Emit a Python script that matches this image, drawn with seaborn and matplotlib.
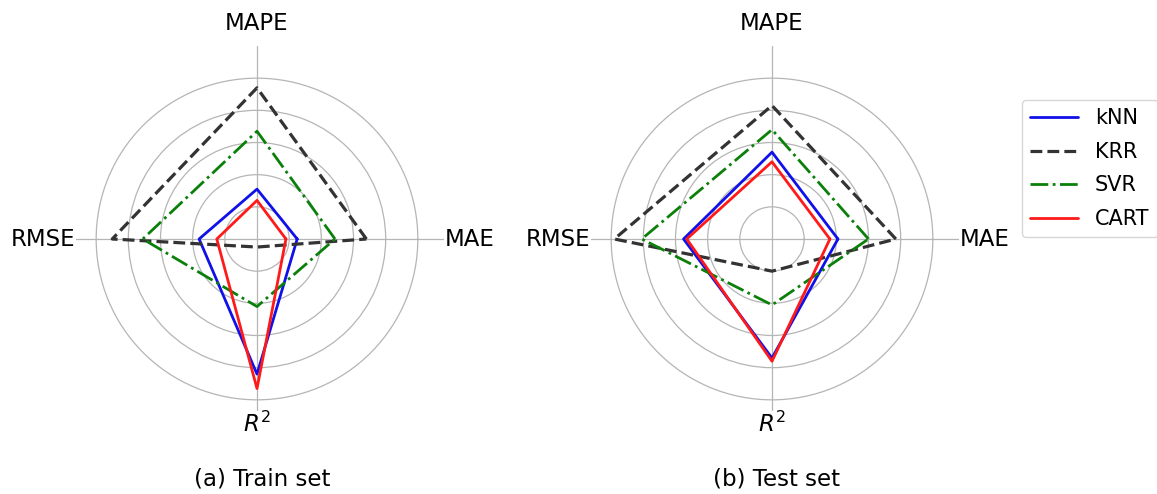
import numpy as np
import pandas as pd
import matplotlib
matplotlib.use("Agg")
import matplotlib.pyplot as plt
import seaborn as sns

# ---- data -------------------------------------------------------------
categories = ["MAE", "MAPE", "RMSE", "$R^2$"]
models = ["kNN", "KRR", "SVR", "CART"]

# normalised metric scores, ordered as in `categories`
knn_train = [0.25, 0.31, 0.36, 0.84]
krr_train = [0.68, 0.94, 0.90, 0.05]
svr_train = [0.485, 0.67, 0.71, 0.42]
cart_train = [0.18, 0.24, 0.25, 0.93]

knn_test = [0.41, 0.54, 0.55, 0.74]
krr_test = [0.77, 0.83, 0.98, 0.20]
svr_test = [0.60, 0.68, 0.81, 0.41]
cart_test = [0.36, 0.48, 0.53, 0.76]

panel_titles = ["(a) Train set", "(b) Test set"]

# ---- style ------------------------------------------------------------
sns.set_style("white")
plt.rcParams["font.family"] = ["DejaVu Sans"]
plt.rcParams["text.color"] = "black"

palette = {"kNN": "#1010e8", "KRR": "#333333", "SVR": "#0a800a", "CART": "#ff1a1a"}
dashes = {"kNN": "", "KRR": (3.7, 1.6), "SVR": (6.4, 1.6, 1.0, 1.6), "CART": ""}
widths = {"kNN": 2.0, "KRR": 2.3, "SVR": 2.0, "CART": 2.0}
label_radius = {"MAE": 1.325, "MAPE": 1.337, "RMSE": 1.33, "$R^2$": 1.15}
FS = 16.5

W, H = 1157, 494
fig = plt.figure(figsize=(W / 100, H / 100), dpi=100)


def radar(rect, series, title, title_x):
    ax = fig.add_axes(rect, projection="polar")
    theta = np.linspace(0, 2 * np.pi, len(categories), endpoint=False)
    rows = []
    for m, vals in zip(models, series):
        # close each polygon by returning to the first axis
        ts = list(theta) + [2 * np.pi]
        vs = list(vals) + [vals[0]]
        for t, v in zip(ts, vs):
            rows.append({"model": m, "theta": t, "r": v})
    df = pd.DataFrame(rows)
    sns.lineplot(data=df, x="theta", y="r", hue="model", style="model",
                 hue_order=models, style_order=models, palette=palette,
                 dashes=dashes, sort=False, estimator=None, linewidth=2.0,
                 ax=ax)
    # lines are drawn in model order; give KRR a slightly heavier stroke
    for line, m in zip(ax.get_lines(), models):
        line.set_linewidth(widths[m])
    ax.set_ylim(0, 1.2)
    ax.set_yticks([0.2, 0.4, 0.6, 0.8, 1.0])
    ax.set_yticklabels([])
    ax.set_xticks(theta)
    ax.set_xticklabels([])
    ax.tick_params(length=0)
    ax.spines["polar"].set_visible(False)
    ax.grid(True, color="#b5b5b5", linewidth=0.9)
    ax.set_xlabel("")
    ax.set_ylabel("")
    for t, lab in zip(theta, categories):
        ax.text(t, label_radius[lab], lab, ha="center", va="center",
                fontsize=FS, color="black", zorder=6, clip_on=False,
                bbox=dict(fc="white", ec="none", pad=0.5))
    fig.text(title_x / W, 1 - 479 / H, title, ha="center", va="center",
             fontsize=FS, color="black")
    return ax


R = 193
ax1 = radar([(257 - R) / W, (H - 239 - R) / H, 2 * R / W, 2 * R / H],
            [knn_train, krr_train, svr_train, cart_train], panel_titles[0], 262)
ax2 = radar([(772 - R) / W, (H - 239 - R) / H, 2 * R / W, 2 * R / H],
            [knn_test, krr_test, svr_test, cart_test], panel_titles[1], 776)

# one shared legend at the right edge of the figure
leg = ax2.get_legend()
handles = list(leg.legend_handles)
labels = [t.get_text() for t in leg.get_texts()]
for h, m in zip(handles, labels):
    h.set_linewidth(widths.get(m, 2.0))
ax1.get_legend().remove()
leg.remove()
fig.legend(handles, labels, loc="upper left",
           bbox_to_anchor=(1022 / W, 1 - 100 / H), fontsize=15,
           handlelength=2.3, labelspacing=0.65, frameon=True,
           edgecolor="#cccccc", fancybox=True, borderaxespad=0,
           labelcolor="black")

fig.savefig("out.png", dpi=100)
